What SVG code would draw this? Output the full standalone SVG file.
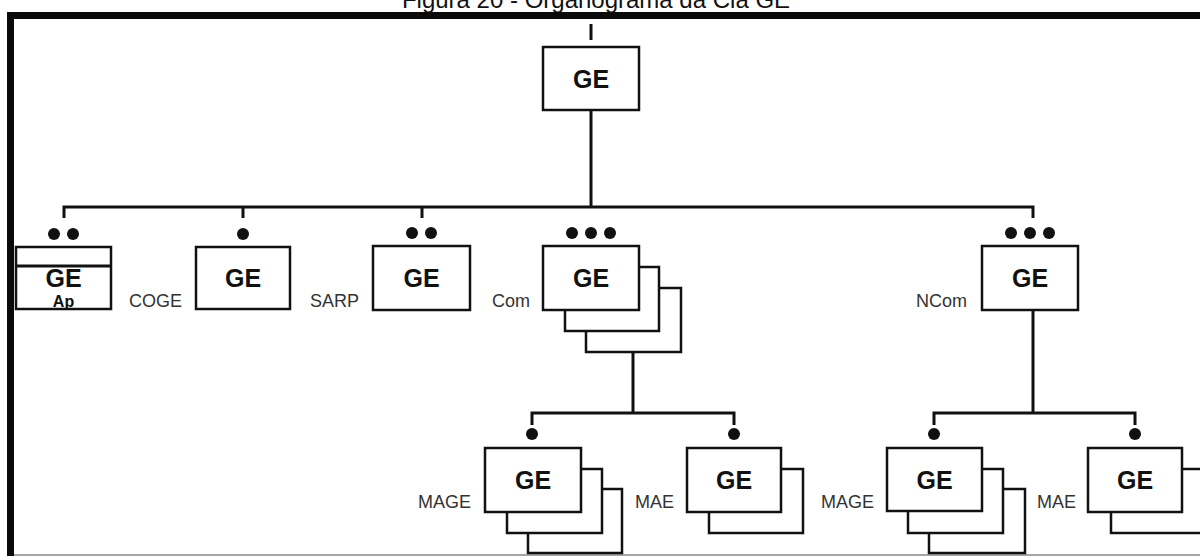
<svg xmlns="http://www.w3.org/2000/svg" width="1200" height="556" viewBox="0 0 1200 556">
<style>
.box{fill:#fff;stroke:#111;stroke-width:2.5}
.ln{fill:none;stroke:#111;stroke-width:3}
.dot{fill:#111}
.ge{font-family:"Liberation Sans",Arial,sans-serif;font-weight:bold;font-size:25px;fill:#111;text-anchor:middle}
.lbl{font-family:"Liberation Sans",Arial,sans-serif;font-size:18px;fill:#333}
.title{font-family:"Liberation Sans",Arial,sans-serif;font-size:24px;fill:#111;text-anchor:middle}
</style>
<rect width="1200" height="556" fill="#fff"/>
<text class="title" x="596" y="8">Figura 20 - Organograma da Cia GE</text>
<g id="frame">
<rect x="7" y="12" width="1193" height="7" fill="#0a0a0a"/>
<rect x="7" y="12" width="7" height="544" fill="#0a0a0a"/>
<line x1="14" y1="555" x2="1200" y2="555" stroke="#888" stroke-width="1.5"/>
</g>
<g id="connectors">
<line class="ln" x1="591" y1="24" x2="591" y2="40"/>
<line class="ln" x1="591" y1="110" x2="591" y2="207"/>
<polyline class="ln" points="64,218 64,207 1033,207 1033,218"/>
<line class="ln" x1="243" y1="207" x2="243" y2="218"/>
<line class="ln" x1="422" y1="207" x2="422" y2="218"/>
<line class="ln" x1="633" y1="352" x2="633" y2="413"/>
<polyline class="ln" points="532,425 532,413 734,413 734,425"/>
<line class="ln" x1="1033" y1="310" x2="1033" y2="413"/>
<polyline class="ln" points="934,425 934,413 1135,413 1135,425"/>
</g>
<g id="n-top">
<rect class="box" x="543" y="47" width="96" height="63"/>
<text class="ge" x="591" y="88">GE</text>
</g>
<g id="n-ap">
<circle class="dot" cx="54" cy="234" r="6"/><circle class="dot" cx="73" cy="234" r="6"/>
<rect class="box" x="16" y="247" width="95" height="62"/>
<line class="ln" x1="16" y1="266" x2="111" y2="266" stroke-width="2.5"/>
<text class="ge" x="63.5" y="287">GE</text>
<text class="ge" x="63.5" y="307" style="font-size:16px">Ap</text>
</g>
<g id="n-coge">
<circle class="dot" cx="243" cy="234" r="6"/>
<rect class="box" x="196" y="247" width="94" height="62"/>
<text class="ge" x="243" y="287">GE</text>
<text class="lbl" x="129" y="307">COGE</text>
</g>
<g id="n-sarp">
<circle class="dot" cx="412" cy="233" r="6"/><circle class="dot" cx="431" cy="233" r="6"/>
<rect class="box" x="373" y="246" width="97" height="64"/>
<text class="ge" x="421.5" y="287">GE</text>
<text class="lbl" x="310" y="307">SARP</text>
</g>
<g id="n-com">
<circle class="dot" cx="572" cy="233" r="6"/><circle class="dot" cx="591" cy="233" r="6"/><circle class="dot" cx="610" cy="233" r="6"/>
<rect class="box" x="586" y="288" width="95" height="64"/>
<rect class="box" x="565" y="267" width="94" height="64"/>
<rect class="box" x="543" y="246" width="96" height="64"/>
<text class="ge" x="591" y="287">GE</text>
<text class="lbl" x="492" y="307">Com</text>
</g>
<g id="n-ncom">
<circle class="dot" cx="1011" cy="233" r="6"/><circle class="dot" cx="1030" cy="233" r="6"/><circle class="dot" cx="1049" cy="233" r="6"/>
<rect class="box" x="982" y="246" width="96" height="64"/>
<text class="ge" x="1030" y="287">GE</text>
<text class="lbl" x="916" y="307">NCom</text>
</g>
<g id="n-mage1">
<circle class="dot" cx="532" cy="434" r="6"/>
<rect class="box" x="528" y="489" width="94" height="64"/>
<rect class="box" x="507" y="469" width="95" height="64"/>
<rect class="box" x="485" y="448" width="96" height="64"/>
<text class="ge" x="533" y="489">GE</text>
<text class="lbl" x="418" y="508">MAGE</text>
</g>
<g id="n-mae1">
<circle class="dot" cx="734" cy="434" r="6"/>
<rect class="box" x="709" y="469" width="94" height="64"/>
<rect class="box" x="687" y="448" width="94" height="64"/>
<text class="ge" x="734" y="489">GE</text>
<text class="lbl" x="635" y="508">MAE</text>
</g>
<g id="n-mage2">
<circle class="dot" cx="934" cy="434" r="6"/>
<rect class="box" x="929" y="489" width="96" height="64"/>
<rect class="box" x="908" y="469" width="95" height="64"/>
<rect class="box" x="887" y="448" width="95" height="63"/>
<text class="ge" x="934.5" y="489">GE</text>
<text class="lbl" x="821" y="508">MAGE</text>
</g>
<g id="n-mae2">
<circle class="dot" cx="1135" cy="434" r="6"/>
<rect class="box" x="1111" y="469" width="100" height="64"/>
<rect class="box" x="1088" y="448" width="94" height="64"/>
<text class="ge" x="1135" y="489">GE</text>
<text class="lbl" x="1037" y="508">MAE</text>
</g>
</svg>
